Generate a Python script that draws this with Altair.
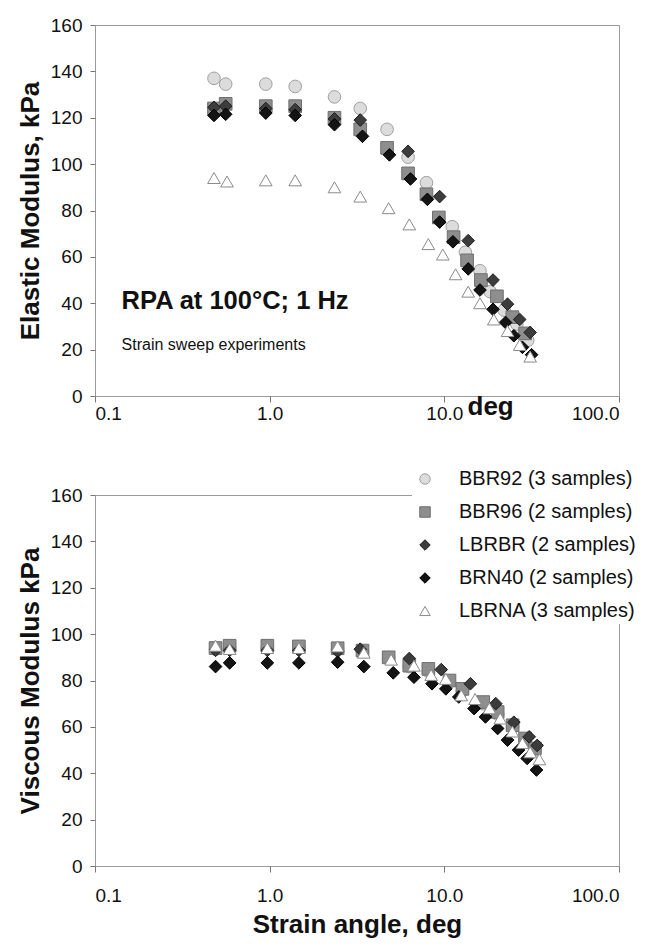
import altair as alt
import pandas as pd

series_names = ["BBR92 (3 samples)", "BBR96 (2 samples)", "LBRBR (2 samples)",
                "BRN40 (2 samples)", "LBRNA (3 samples)"]

# ---- Elastic modulus (top panel) ----
e_bbr92_x = [0.48, 0.56, 0.95, 1.4, 2.35, 3.3, 4.7, 6.2, 7.9, 11.1, 13.2, 16.0, 18.3, 22, 26, 30]
e_bbr92_y = [137, 134.5, 134.5, 133.5, 129, 124, 115, 103, 92, 73, 62, 54, 45, 37, 31, 24]
e_bbr96_x = [0.48, 0.56, 0.95, 1.4, 2.35, 3.3, 4.7, 6.2, 7.9, 9.3, 11.3, 13.5, 16.2, 20, 24.5, 29]
e_bbr96_y = [124, 126, 125, 125, 120, 115, 107, 96, 87, 77, 68.5, 58.5, 50, 43, 34, 27]
e_lbrbr_x = [0.48, 0.56, 0.95, 1.4, 2.35, 3.3, 6.2, 9.4, 13.7, 19, 23, 27, 31]
e_lbrbr_y = [124.5, 125, 124, 123.5, 119.5, 119, 105.5, 86, 67, 50, 39.6, 33, 27.4]
e_brn40_x = [0.48, 0.56, 0.95, 1.4, 2.35, 3.4, 4.85, 6.4, 8.0, 9.4, 11.2, 13.7, 16, 19, 22.4, 25, 28, 31.6]
e_brn40_y = [121, 121.5, 122, 121, 117, 112, 104, 93.6, 84.8, 75, 66.5, 54.8, 45.7, 37.4, 31.7, 26, 21, 17.8]
e_lbrna_x = [0.48, 0.57, 0.95, 1.4, 2.35, 3.3, 4.8, 6.3, 8.1, 9.8, 11.6, 13.7, 16, 19.2, 23, 27, 31]
e_lbrna_y = [94, 92.5, 93, 93, 90, 86, 81, 74, 65.5, 61, 52.5, 45, 40, 33, 28, 22, 17]

# ---- Viscous modulus (bottom panel) ----
v_bbr92_x = [0.49, 0.59, 0.97, 1.47, 2.45, 3.4, 4.8, 6.3, 8.1, 10.7, 12.7, 16.7, 20.2, 24.6, 29, 33]
v_bbr92_y = [93.5, 94, 94, 94, 93.5, 92.5, 89.5, 86, 84, 79.5, 75.5, 70, 65.5, 60, 54.5, 50]
v_bbr96_x = [0.49, 0.59, 0.97, 1.47, 2.45, 3.4, 4.8, 6.3, 8.1, 10.7, 12.7, 16.7, 20.2, 24.6, 29, 33]
v_bbr96_y = [94, 95, 95, 94.7, 93.9, 92.9, 90, 86.4, 85, 80, 76.4, 70.7, 66.4, 60.7, 55, 50.7]
v_lbrbr_x = [0.49, 0.59, 0.97, 1.47, 2.45, 3.3, 6.3, 9.6, 14.1, 19.7, 25, 30.6, 34]
v_lbrbr_y = [93, 93, 93, 93, 92.5, 93.5, 89.5, 84.7, 78.6, 70, 62, 55.7, 52]
v_brn40_x = [0.49, 0.59, 0.97, 1.47, 2.45, 3.46, 5.1, 6.7, 8.5, 10.2, 12.1, 14.8, 17.2, 20.2, 23, 26.6, 29.8, 33.7]
v_brn40_y = [86, 87.6, 87.6, 87.6, 87.9, 86, 83.3, 81.4, 78.6, 76.4, 72.9, 67.9, 64.3, 59.3, 54.3, 50, 46.4, 41.4]
v_lbrna_x = [0.49, 0.59, 0.97, 1.47, 2.45, 3.46, 4.96, 6.7, 8.4, 10.2, 12.5, 15, 18.1, 20.9, 24.5, 28, 31, 35]
v_lbrna_y = [95, 93.6, 94, 94, 94.7, 92, 89, 86.4, 82.4, 80.7, 73.6, 72, 68, 63.6, 58, 53, 49, 46]

x_ticks = [0.1, 1, 10, 100]
y_ticks = [0, 20, 40, 60, 80, 100, 120, 140, 160]

note1_text = ["RPA at 100°C; 1 Hz"]
note1_x = [0.142]
note1_y = [41]
note2_text = ["Strain sweep experiments"]
note2_x = [0.142]
note2_y = [22]


def build(xs_list, ys_list):
    rows = []
    for k, (name, xs, ys) in enumerate(zip(series_names, xs_list, ys_list)):
        for a, b in zip(xs, ys):
            rows.append({"series": name, "strain": a, "value": b, "order": k})
    return pd.DataFrame(rows)


elastic = build([e_bbr92_x, e_bbr96_x, e_lbrbr_x, e_brn40_x, e_lbrna_x],
                [e_bbr92_y, e_bbr96_y, e_lbrbr_y, e_brn40_y, e_lbrna_y])
viscous = build([v_bbr92_x, v_bbr96_x, v_lbrbr_x, v_brn40_x, v_lbrna_x],
                [v_bbr92_y, v_bbr96_y, v_lbrbr_y, v_brn40_y, v_lbrna_y])
notes1 = pd.DataFrame({"text": note1_text, "x": note1_x, "y": note1_y})
notes2 = pd.DataFrame({"text": note2_text, "x": note2_x, "y": note2_y})

FONT = "Liberation Sans"
fills = ["#dcdcdc", "#8e8e8e", "#3c3c3c", "#141414", "#ffffff"]
strokes = ["#a0a0a0", "#6e6e6e", "#1e1e1e", "#000000", "#8a8a8a"]
shapes = ["circle", "square", "diamond", "diamond", "triangle-up"]

W, H = 524, 371
XSCALE = alt.Scale(type="log", domain=[0.1, 100], nice=False)
YSCALE = alt.Scale(domain=[0, 160], nice=False)


def x_enc(title, lpad, **kw):
    return alt.X("strain:Q", scale=XSCALE,
                 axis=alt.Axis(values=x_ticks, format=".1f", title=title,
                               grid=False, domain=False, tickColor="#777",
                               tickSize=6, labelFontSize=19, labelFont=FONT,
                               labelColor="#111", labelPadding=lpad,
                               titleFont=FONT, titleFontSize=26,
                               titleFontWeight="bold", titleColor="#111",
                               **kw))


def y_enc(title):
    return alt.Y("value:Q", scale=YSCALE,
                 axis=alt.Axis(values=y_ticks, title=title, grid=False,
                               domain=False, tickColor="#777", tickSize=5,
                               labelFontSize=19, labelFont=FONT,
                               labelColor="#111", labelPadding=8,
                               titleFont=FONT, titleFontSize=26,
                               titleFontWeight="bold", titleColor="#111",
                               titlePadding=7))


def points(df, xtitle, ytitle, legend, lpad, **xkw):
    if legend:
        kw = {"legend": alt.Legend(title=None, orient="none", legendX=317,
                                   legendY=-29, labelFont=FONT,
                                   labelFontSize=20, labelColor="#111",
                                   labelLimit=400, symbolSize=110,
                                   rowPadding=13, labelOffset=24, padding=3,
                                   fillColor="white", symbolStrokeWidth=1)}
    else:
        kw = {"legend": None}
    return alt.Chart(df).mark_point(filled=True, size=160, strokeWidth=1,
                                    opacity=1).encode(
        x=x_enc(xtitle, lpad, **xkw),
        y=y_enc(ytitle),
        shape=alt.Shape("series:N", sort=series_names,
                        scale=alt.Scale(domain=series_names, range=shapes), **kw),
        fill=alt.Fill("series:N", sort=series_names,
                      scale=alt.Scale(domain=series_names, range=fills), **kw),
        stroke=alt.Stroke("series:N", sort=series_names,
                          scale=alt.Scale(domain=series_names, range=strokes), **kw),
        order=alt.Order("order:Q"),
    )


top_pts = points(elastic, "deg", "Elastic Modulus, kPa", False, 2,
                 titleX=372, titleY=-3, titleAnchor="start", titleAlign="left",
                 titleBaseline="top")
note_a = alt.Chart(notes1).mark_text(align="left", baseline="middle", font=FONT,
                                     fontSize=25.5, fontWeight="bold",
                                     color="#111").encode(
    x=alt.X("x:Q", scale=XSCALE), y=alt.Y("y:Q", scale=YSCALE), text="text:N")
note_b = alt.Chart(notes2).mark_text(align="left", baseline="middle", font=FONT,
                                     fontSize=16, color="#111").encode(
    x=alt.X("x:Q", scale=XSCALE), y=alt.Y("y:Q", scale=YSCALE), text="text:N")
top = alt.layer(top_pts, note_a, note_b).properties(width=W, height=H)

bottom = points(viscous, "Strain angle, deg", "Viscous Modulus kPa", True, 14,
                titlePadding=6).properties(width=W, height=H)

chart = alt.vconcat(top, bottom, spacing=99, bounds="flush").resolve_scale(
    shape="independent", fill="independent", stroke="independent"
).configure_view(stroke="#9a9a9a", strokeWidth=1).properties(
    padding={"left": 16, "top": 15, "right": 1, "bottom": 4},
    background="white",
)

chart.save("out.html", embed_options={"renderer": "svg", "actions": False})
